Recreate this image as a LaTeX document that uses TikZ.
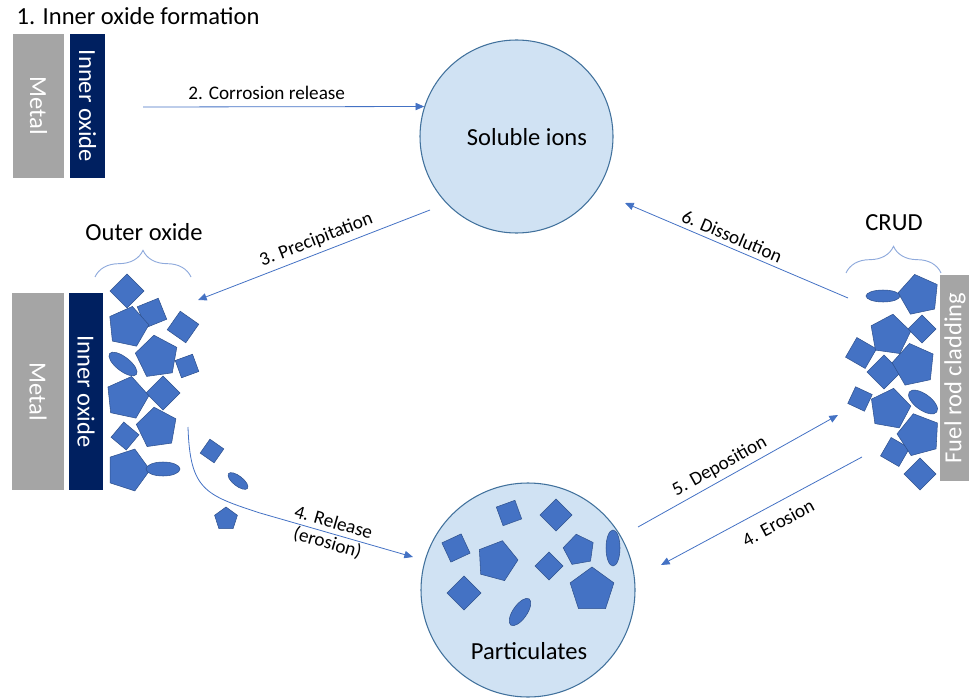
\documentclass[tikz,border=0pt]{standalone}
\usepackage{fontspec}
\setmainfont{Carlito}
\usetikzlibrary{arrows.meta,positioning,shapes.geometric,decorations.pathreplacing}
\definecolor{flowblue}{HTML}{4472C4}
\definecolor{grainedge}{HTML}{2F528F}
\definecolor{poolfill}{HTML}{D0E2F3}
\definecolor{pooledge}{HTML}{41719C}
\definecolor{metalgray}{HTML}{A5A5A5}
\definecolor{oxidenavy}{HTML}{002060}
\definecolor{bracec}{HTML}{8FAADC}

\tikzset{
	big/.style={font=\fontsize{18.4}{22}\selectfont},
	lbl/.style={font=\fontsize{14.4}{16}\selectfont},
	flow/.style={draw=flowblue,line width=0.6pt,-{Triangle[length=6.5pt,width=5.5pt]}},
	curly/.style={draw=bracec,line width=0.7pt,decorate,decoration={brace,amplitude=20pt}},
	pool/.style={circle,draw=pooledge,fill=poolfill,line width=0.8pt,inner sep=0pt},
	bar/.style={rectangle,inner sep=0pt,text=white,big},
	metal/.style={bar,fill=metalgray},
	oxide/.style={bar,fill=oxidenavy},
	grain/.style={fill=flowblue,draw=grainedge,line width=0.4pt,inner sep=0pt},
	dia/.style={grain,regular polygon,regular polygon sides=4,shape border rotate=45,minimum size=1.5pt*#1},
	pent/.style={grain,regular polygon,regular polygon sides=5,minimum size=1.5pt*#1},
	ell/.style 2 args={grain,ellipse,minimum width=1.5pt*#1,minimum height=1.5pt*#2}
}

\begin{document}
\begin{tikzpicture}[x=0.75pt,y=-0.75pt]
	\useasboundingbox (0,0) rectangle (969,698);

	% step 1
	\node[big,anchor=base west] (title) at (12,25) {1. Inner oxide formation};
	\node[metal,rotate=-90,minimum width=108pt,minimum height=38.25pt] (metalA) at (38.5,106) {Metal};
	\node[oxide,rotate=-90,minimum width=108pt,minimum height=26.25pt] (oxideA) at (87.5,106) {Inner oxide};

	% pools
	\node[pool,minimum size=144.75pt] (ions) at (516.5,136.5) {};
	\node[big] (ionsT) at (527,137) {Soluble ions};
	\node[pool,minimum size=160.5pt] (parts) at (528,590) {};
	\node[big] (partsT) at (529,651) {Particulates};

	% outer oxide side
	\node[metal,rotate=-90,minimum width=147.75pt,minimum height=39pt] (metalB) at (38,391.5) {Metal};
	\node[oxide,rotate=-90,minimum width=147.75pt,minimum height=25.5pt] (oxideB) at (86,391.5) {Inner oxide};
	\draw[curly] (95,277) -- (191,277);
	\node[big] (outerT) at (144,232) {Outer oxide};

	% crud side
	\node[metal,rotate=90,minimum width=154.5pt,minimum height=22.5pt] (clad) at (955,378) {Fuel rod cladding};
	\draw[curly] (846,273) -- (941,273);
	\node[big] (crudT) at (894,223) {CRUD};

	% grains
	\foreach \gx/\gy/\gs/\gr [count=\i] in {127/291/17/0,152/313/16/-23,183/327/16/10,187/366/13/-25,163/393/17/0,125/436/14/5,212/451/12/10,
		922/329/14/0,861/353/16/15,884/372/17/0,860/399/13/20,895/452/15/15,920/474/16/0,
		509/513/14/-25,556/515/16/0,456/548/15/-20,549/566/14/0,464/593/17/0}
		\node[dia=\gs,rotate=\gr] (d\i) at (\gx,\gy) {};
	\foreach \gx/\gy/\gs/\gr [count=\i] in {128/327/21/-12,157/357/22/8,127/398/22/-12,157/428/21/8,128/470/22/-18,226/519/12/0,
		919/295/21/12,890/335/21/-8,914/365/22/12,890/409/21/-10,919/435/22/15,
		497/561/21/-15,579/550/16/10,592/590/23/0}
		\node[pent=\gs,rotate=\gr] (p\i) at (\gx,\gy) {};
	\foreach \gx/\gy/\ga/\gb/\gr [count=\i] in {123/364/17/7/-38,163/469/17/7/0,238/481/12/5/-38,
		883/296/17/6/0,923/402/17/8/-36,613/548/7/18/0,520/612/7/16/-35}
		\node[ell={\ga}{\gb},rotate=\gr] (e\i) at (\gx,\gy) {};

	% transport
	\coordinate (corrS) at (143,107);
	\coordinate (precS) at (430,210);
	\coordinate (precE) at (198,300);
	\coordinate (relS) at (188,427);
	\coordinate (relE) at (413,557);
	\coordinate (depS) at (638,527);
	\coordinate (depE) at (838,415);
	\coordinate (eroS) at (862,457);
	\coordinate (eroE) at (661,565);
	\coordinate (disS) at (848,298);
	\coordinate (disE) at (625,203);

	\draw[flow] (corrS) -- node[lbl,above=2pt,pos=0.44] (corrL) {2. Corrosion release} (ions.162);
	\draw[flow] (precS) -- node[lbl,sloped,above,pos=0.47] (precL) {3. Precipitation} (precE);
	\draw[flow] (relS) .. controls (190,490) and (205,495) .. (260,513) -- node[lbl,sloped,align=center,pos=0.46] (relL) {4. Release\\(erosion)} (relE);
	\draw[flow] (depS) -- node[lbl,sloped,above,pos=0.44] (depL) {5. Deposition} (depE);
	\draw[flow] (eroS) -- node[lbl,sloped,below=5pt,pos=0.46] (eroL) {4. Erosion} (eroE);
	\draw[flow] (disS) -- node[lbl,sloped,above,pos=0.54] (disL) {6. Dissolution} (disE);
\end{tikzpicture}
\end{document}
